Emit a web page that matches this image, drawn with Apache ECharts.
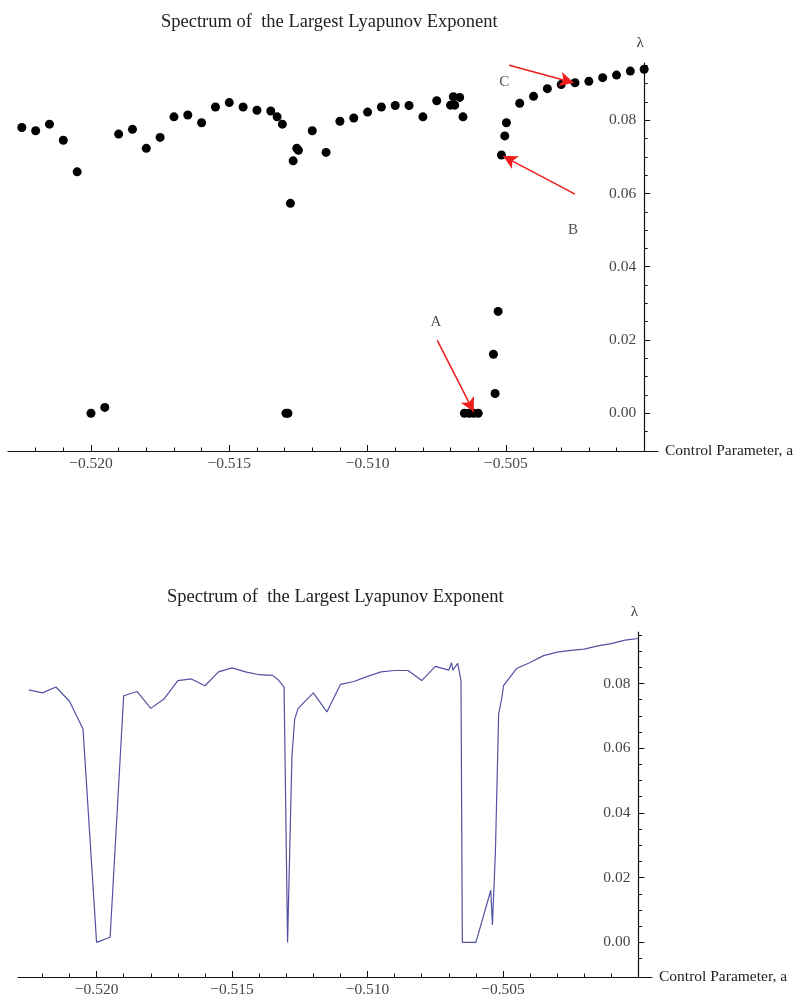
<!DOCTYPE html>
<html>
<head>
<meta charset="utf-8">
<script src="https://cdn.jsdelivr.net/npm/echarts@6/dist/echarts.min.js"></script>
<style>
  html, body { margin: 0; padding: 0; background: #fff; }
  #chart { width: 804px; height: 998px; }
</style>
</head>
<body>
<div id="chart"></div>
<script>
// control parameter a and largest Lyapunov exponent
const aValues = [
  -0.5225, -0.5220, -0.5215, -0.5210, -0.5205, -0.5200, -0.5195, -0.5190,
  -0.5185, -0.5180, -0.5175, -0.5170, -0.5165, -0.5160, -0.5155, -0.5150,
  -0.5145, -0.5140, -0.5135, -0.51327, -0.51308, -0.51295, -0.51288, -0.51279,
  -0.51269, -0.51256, -0.51250, -0.5120, -0.5115, -0.5110, -0.5105, -0.5100,
  -0.5095, -0.5090, -0.5085, -0.5080, -0.5075, -0.5070, -0.50690, -0.50685,
  -0.50667, -0.50655, -0.5065, -0.50633, -0.50617, -0.5060, -0.50545, -0.50539,
  -0.50528, -0.50516, -0.50504, -0.50498, -0.5045, -0.5040, -0.5035, -0.5030,
  -0.5025, -0.5020, -0.5015, -0.5010, -0.5005, -0.5000
]
const lambdaValues = [
  0.0780, 0.0771, 0.0789, 0.0745, 0.0659, 0.0000, 0.0016, 0.0762,
  0.0775, 0.0723, 0.0753, 0.0809, 0.0814, 0.0793, 0.0836, 0.0848,
  0.0836, 0.0827, 0.0825, 0.0809, 0.0789, 0.0000, 0.0000, 0.0573,
  0.0689, 0.0723, 0.0718, 0.0771, 0.0712, 0.0797, 0.0806, 0.0822,
  0.0836, 0.0840, 0.0840, 0.0809, 0.0853, 0.0841, 0.0864, 0.0841,
  0.0862, 0.0809, 0.0000, 0.0000, 0.0000, 0.0000, 0.0161, 0.0054,
  0.0278, 0.0705, 0.0757, 0.0793, 0.0846, 0.0865, 0.0886, 0.0897,
  0.0902, 0.0906, 0.0916, 0.0923, 0.0934, 0.0939
]

// tick positions
const xMajorTicks = [-0.520, -0.515, -0.510, -0.505]
const xMinorTicks = [
  -0.522, -0.521, -0.519, -0.518, -0.517, -0.516, -0.514, -0.513, -0.512,
  -0.511, -0.509, -0.508, -0.507, -0.506, -0.504, -0.503, -0.502, -0.501
]
const yMajorTicks = [0.00, 0.02, 0.04, 0.06, 0.08]
const yMinorTicks = [
  -0.005, 0.005, 0.010, 0.015, 0.025, 0.030, 0.035, 0.045, 0.050, 0.055,
  0.065, 0.070, 0.075, 0.085, 0.090, 0.095
]

// red arrows on the upper plot: label, label position, arrow tail, arrow head
const markerNames = ['A', 'B', 'C']
const markerLabelAt = [[-0.50753, 0.0249], [-0.50257, 0.0500], [-0.50506, 0.0905]]
const arrowFrom = [[-0.50748, 0.0199], [-0.50250, 0.0598], [-0.50488, 0.0950]]
const arrowTo = [[-0.50616, 0.0004], [-0.50510, 0.0702], [-0.50255, 0.0902]]

const titleText = 'Spectrum of  the Largest Lyapunov Exponent'
const xName = 'Control Parameter, a'
const yName = 'λ'

const serif = '"Liberation Serif", "DejaVu Serif", serif'
const points = aValues.map((a, i) => [a, lambdaValues[i]])

const xFmt = (v) => '\u2212' + Math.abs(v).toFixed(3)
const yFmt = (v) => v.toFixed(2)

// grid geometry
const grids = [
  { left: 8, right: 146, top: 63, bottom: 547, xMin: -0.5230, yMin: -0.0103, yMax: 0.0956 },
  { left: 18, right: 152, top: 632, bottom: 18, xMin: -0.5229, yMin: -0.0107, yMax: 0.0959 }
]
const xMax = -0.4995
const yAxisAt = -0.5000

function axesFor(g, gi) {
  const width = 804 - g.left - g.right
  const pxPerUnit = width / (xMax - g.xMin)
  const yOffset = -(xMax - yAxisAt) * pxPerUnit
  const xMajor = {
    type: 'value', gridIndex: gi, position: 'bottom', min: g.xMin, max: xMax,
    name: xName, nameLocation: 'end', nameGap: 7,
    nameTextStyle: { fontFamily: serif, fontSize: 15.5, color: '#222', verticalAlign: 'middle', padding: [6, 0, 0, 0] },
    axisLine: { onZero: false, lineStyle: { color: '#111', width: 1.2 } },
    axisTick: { inside: true, length: 6, customValues: xMajorTicks, lineStyle: { color: '#111' } },
    axisLabel: { customValues: xMajorTicks, formatter: xFmt, fontFamily: serif, fontSize: 15.5, color: '#444', margin: 5 },
    splitLine: { show: false }
  }
  const xMinor = {
    type: 'value', gridIndex: gi, position: 'bottom', min: g.xMin, max: xMax,
    axisLine: { show: false, onZero: false },
    axisTick: { inside: true, length: 3.5, customValues: xMinorTicks, lineStyle: { color: '#111' } },
    axisLabel: { show: false },
    splitLine: { show: false }
  }
  const yMajor = {
    type: 'value', gridIndex: gi, position: 'right', offset: yOffset,
    min: g.yMin, max: g.yMax,
    name: yName, nameLocation: 'end', nameGap: 12,
    nameTextStyle: { fontFamily: serif, fontSize: 15, color: '#333', align: 'center', padding: [0, 8, 0, 0] },
    axisLine: { onZero: false, lineStyle: { color: '#111', width: 1.2 } },
    axisTick: { inside: false, length: 6, customValues: yMajorTicks, lineStyle: { color: '#111' } },
    axisLabel: { inside: true, customValues: yMajorTicks, formatter: yFmt, fontFamily: serif, fontSize: 15.5, color: '#444', margin: 8 },
    splitLine: { show: false }
  }
  const yMinor = {
    type: 'value', gridIndex: gi, position: 'right', offset: yOffset,
    min: g.yMin, max: g.yMax,
    axisLine: { show: false, onZero: false },
    axisTick: { inside: false, length: 3.5, customValues: yMinorTicks, lineStyle: { color: '#111' } },
    axisLabel: { show: false },
    splitLine: { show: false }
  }
  return { xMajor, xMinor, yMajor, yMinor }
}

const a0 = axesFor(grids[0], 0)
const a1 = axesFor(grids[1], 1)

const chart = echarts.init(document.getElementById('chart'), null, { renderer: 'canvas' })

chart.setOption({
  backgroundColor: '#fff',
  animation: false,
  title: [
    { text: titleText, left: 156, top: 8, textStyle: { fontFamily: serif, fontSize: 18.5, fontWeight: 'normal', color: '#222' } },
    { text: titleText, left: 162, top: 583, textStyle: { fontFamily: serif, fontSize: 18.5, fontWeight: 'normal', color: '#222' } }
  ],
  grid: grids.map((g) => ({ left: g.left, right: g.right, top: g.top, bottom: g.bottom })),
  xAxis: [a0.xMajor, a0.xMinor, a1.xMajor, a1.xMinor],
  yAxis: [a0.yMajor, a0.yMinor, a1.yMajor, a1.yMinor],
  series: [
    {
      type: 'scatter',
      xAxisIndex: 0,
      yAxisIndex: 0,
      data: points,
      symbol: 'circle',
      symbolSize: 9,
      itemStyle: { color: '#000', opacity: 1 },
      z: 3,
      markLine: {
        silent: true,
        symbol: ['none', 'arrow'],
        symbolSize: [11, 14],
        lineStyle: { color: '#ee1c1c', width: 1.5, type: 'solid' },
        label: { show: false },
        data: arrowFrom.map((p, i) => [{ coord: p }, { coord: arrowTo[i] }])
      }
    },
    {
      type: 'scatter',
      xAxisIndex: 0,
      yAxisIndex: 0,
      data: markerLabelAt.map((p, i) => ({ value: p, name: markerNames[i] })),
      symbolSize: 1,
      itemStyle: { color: 'rgba(0,0,0,0)' },
      label: {
        show: true,
        position: 'inside',
        formatter: (p) => p.name,
        fontFamily: serif,
        fontSize: 15,
        color: '#222'
      },
      silent: true
    },
    {
      type: 'line',
      xAxisIndex: 2,
      yAxisIndex: 2,
      data: points,
      showSymbol: false,
      symbol: 'none',
      lineStyle: { color: '#5252a3', width: 1.2 },
      itemStyle: { color: '#5252a3' }
    }
  ]
})
</script>
</body>
</html>
